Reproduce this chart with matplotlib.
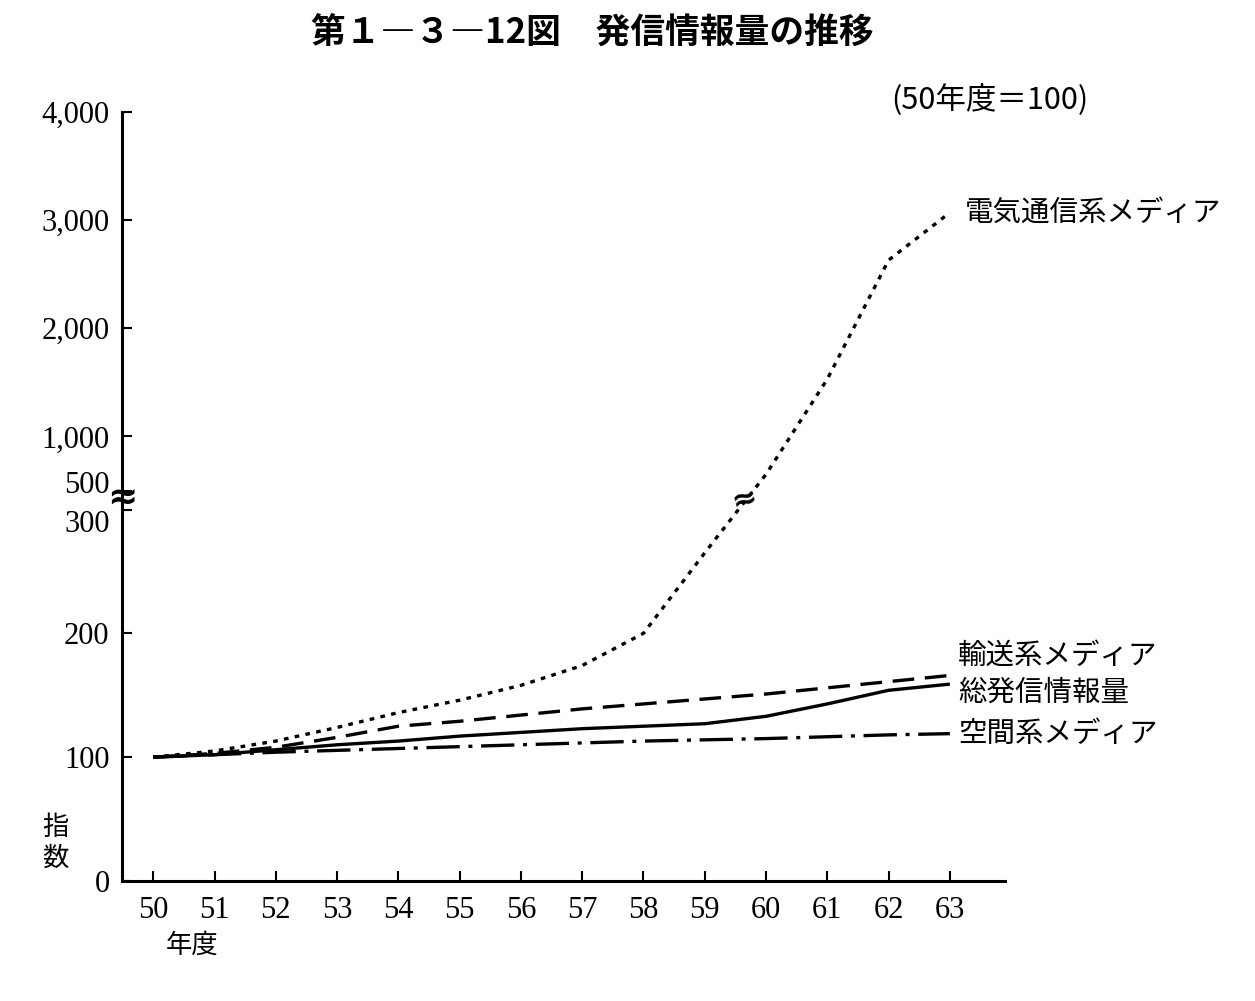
import numpy as np
import matplotlib
matplotlib.use('Agg')
import matplotlib.pyplot as plt
from matplotlib.transforms import ScaledTranslation

plt.rcParams['font.family'] = ['Noto Sans CJK JP', 'DejaVu Sans']

# === Daten ===
years = [50, 51, 52, 53, 54, 55, 56, 57, 58, 59, 60, 61, 62, 63]
telecom = [100, 105, 113, 124, 136, 146, 158, 174, 200, 265, 650, 1530, 2630, 3070]
transport = [100, 103, 108, 116, 125, 129, 134, 139, 143, 147, 151, 156, 161, 166]
total = [100, 102, 106, 110, 113, 117, 120, 123, 125, 127, 133, 143, 154, 159]
space = [100, 102, 104, 105.5, 107, 108.5, 110, 111.5, 113, 114, 115, 116.5, 118, 119]

ytick_vals = [0, 100, 200, 300, 500, 1000, 2000, 3000, 4000]
ytick_labels = ['0', '100', '200', '300', '500', '1,000', '2,000', '3,000', '4,000']

labels = ['電気通信系メディア', '輸送系メディア', '総発信情報量', '空間系メディア']
label_y = [3065, 182, 152, 119]


# gebrochene Achse: 0-300 gross, 300-500 gestaucht, 500-4000 klein
def fwd(y):
    y = np.asarray(y, dtype=float)
    return np.where(y <= 300, y * 1.24,
                    np.where(y <= 500, 372 + (y - 300) * 0.095,
                             391 + (y - 500) * 0.1083))


def inv(p):
    p = np.asarray(p, dtype=float)
    return np.where(p <= 372, p / 1.24,
                    np.where(p <= 391, 300 + (p - 372) / 0.095,
                             500 + (p - 391) / 0.1083))


fig = plt.figure(figsize=(12.55, 10.01), dpi=100)
ax = fig.add_axes([122 / 1255, 120 / 1001, 883 / 1255, 769 / 1001])
ax.set_yscale('function', functions=(fwd, inv))
ax.set_ylim(0, 4000)
ax.set_xlim(49.49, 63.9)

lw = 2.4
ax.plot(years, telecom, color='black', lw=lw, dashes=(1.4, 1.9))
ax.plot(years, transport, color='black', lw=lw, dashes=(6.5, 3.2))
ax.plot(years, total, color='black', lw=lw, solid_capstyle='butt')
ax.plot(years, space, color='black', lw=lw, dashes=(10, 2.6, 1.2, 2.6))

for spine in ['top', 'right']:
    ax.spines[spine].set_visible(False)
ax.spines['left'].set_linewidth(2.2)
ax.spines['bottom'].set_linewidth(2.2)

ax.set_xticks(years)
ax.set_xticklabels([str(y) for y in years], fontfamily='Liberation Serif', fontsize=22)
ax.set_yticks(ytick_vals)
ax.set_yticklabels(ytick_labels, fontfamily='Liberation Serif', fontsize=22)
ax.minorticks_off()
ax.tick_params(axis='both', direction='in', length=7, width=1.5)
ax.tick_params(axis='y', pad=9)
ax.tick_params(axis='x', pad=11)

# 500 etwas hoch, 300 etwas runter, damit sie sich nicht ueberlappen
for tl in ax.get_yticklabels():
    if tl.get_text() == '500':
        tl.set_transform(tl.get_transform() + ScaledTranslation(0, 6 / 72, fig.dpi_scale_trans))
    elif tl.get_text() == '300':
        tl.set_transform(tl.get_transform() + ScaledTranslation(0, -8 / 72, fig.dpi_scale_trans))

# Bruchzeichen
ax.text(49.49, 410, '≈', fontsize=26, fontfamily='DejaVu Sans', fontweight='bold',
        ha='center', va='center', clip_on=False)
ax.text(59.66, 400, '≈', fontsize=22, fontfamily='DejaVu Sans', fontweight='bold',
        ha='center', va='center', rotation=15)

# Linienbeschriftungen
ax.text(63.25, label_y[0], labels[0], fontsize=20.5, va='center', ha='left', clip_on=False)
for lab, yv in zip(labels[1:], label_y[1:]):
    ax.text(63.13, yv, lab, fontsize=20.5, va='center', ha='left', clip_on=False)

fig.text(592 / 1255, 1 - 33 / 1001, '第１―３―12図　発信情報量の推移',
         fontsize=25, fontweight='bold', ha='center', va='center')
fig.text(990 / 1255, 1 - 100 / 1001, '(50年度＝100)', fontsize=22, ha='center', va='center')
fig.text(55 / 1255, 1 - 827 / 1001, '指', fontsize=19, ha='center', va='center')
fig.text(55 / 1255, 1 - 858 / 1001, '数', fontsize=19, ha='center', va='center')
fig.text(192 / 1255, 1 - 945 / 1001, '年度', fontsize=19, ha='center', va='center')

fig.savefig('out.png', dpi=100)
